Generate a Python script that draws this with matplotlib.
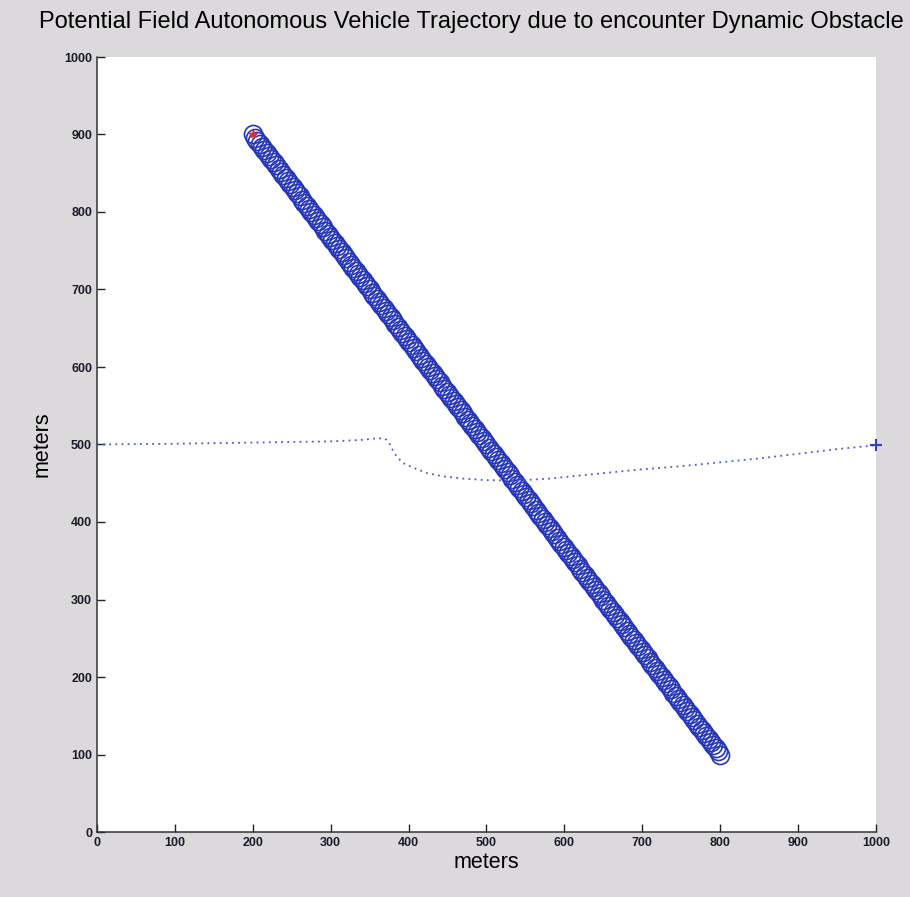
import numpy as np
import matplotlib
matplotlib.use("Agg")
import matplotlib.pyplot as plt

# Vehicle path (x, y in meters)
traj_x = [0, 100, 200, 300, 340, 360, 370, 375, 380, 385, 393, 406, 424, 444,
          470, 500, 540, 580, 600, 650, 700, 750, 800, 850, 900, 950, 1000]
traj_y = [500, 501, 502.5, 504, 506, 508, 507.5, 502, 492, 484, 476, 470, 463, 459,
          456, 454, 453.5, 456, 458, 463, 468, 472, 477, 482, 488, 494, 499]

# Dynamic obstacle: straight-line motion from start to end
obstacle_start = (200, 900)
obstacle_end = (800, 100)
obstacle_steps = 201

goal_point = (1000, 499)

xticks = [0, 100, 200, 300, 400, 500, 600, 700, 800, 900, 1000]
yticks = [0, 100, 200, 300, 400, 500, 600, 700, 800, 900, 1000]

obs_x = np.linspace(obstacle_start[0], obstacle_end[0], obstacle_steps)
obs_y = np.linspace(obstacle_start[1], obstacle_end[1], obstacle_steps)

plt.rcParams['font.family'] = ['Liberation Sans', 'DejaVu Sans']

bg = '#dcd9dd'
fig = plt.figure(figsize=(9.10, 8.97), dpi=100, facecolor=bg)
ax = fig.add_axes([97 / 910, 1 - 832 / 897, 779 / 910, 775 / 897])
ax.set_facecolor('white')

ax.plot(obs_x, obs_y, linestyle='none', marker='o', markersize=13,
        markerfacecolor='none', markeredgecolor='#2636b8', markeredgewidth=1.2)
ax.plot([obstacle_start[0]], [obstacle_start[1]], linestyle='none', marker='*',
        markersize=6, color='#e0302a')

ax.plot(traj_x, traj_y, linestyle=(0, (1, 2.4)), linewidth=1.3, color='#4a5ccc')
ax.plot([goal_point[0]], [goal_point[1]], linestyle='none', marker='+',
        markersize=9, markeredgewidth=1.5, color='#3040c0', clip_on=False)

ax.set_xlim(0, 1000)
ax.set_ylim(0, 1000)
ax.set_xticks(xticks)
ax.set_yticks(yticks)
ax.tick_params(direction='in', length=6, width=1, colors='#222222', labelsize=9, pad=3.5)
for lab in ax.get_xticklabels() + ax.get_yticklabels():
    lab.set_fontweight('bold')
    lab.set_color('#1a1a2a')

for side in ('top', 'right'):
    ax.spines[side].set_visible(False)
for side in ('left', 'bottom'):
    ax.spines[side].set_color('#333333')
    ax.spines[side].set_linewidth(1.1)

ax.set_xlabel('meters', fontsize=15.5, labelpad=2)
ax.set_ylabel('meters', fontsize=15.5, labelpad=8)
fig.text(0.518, 0.976, 'Potential Field Autonomous Vehicle Trajectory due to encounter Dynamic Obstacle',
         ha='center', va='center', fontsize=17)

fig.savefig('out.png', dpi=100, facecolor=bg)
